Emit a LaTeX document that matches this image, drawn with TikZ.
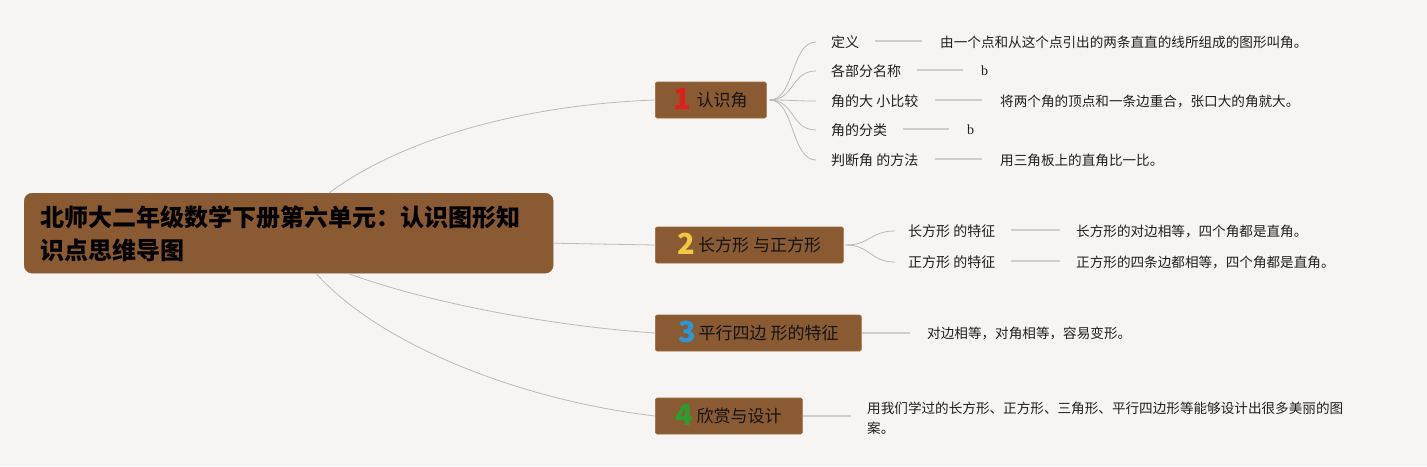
\documentclass[tikz,border=0pt]{standalone}
\usepackage{fontspec}
\setmainfont{Noto Sans CJK SC}
\newfontfamily\serifb{Liberation Serif}
\definecolor{bgc}{HTML}{F6F5F3}
\definecolor{brownc}{HTML}{8A5A32}
\definecolor{brownedge}{HTML}{9C6B40}
\definecolor{lineg}{HTML}{BDB9B5}
\definecolor{leaflinec}{HTML}{D0CDCA}
\definecolor{numred}{HTML}{E01E1E}
\definecolor{numyellow}{HTML}{F2C744}
\definecolor{numblue}{HTML}{2A98D8}
\definecolor{numgreen}{HTML}{2E9B2E}
\newcommand\bnum[2]{\smash{\raisebox{-3pt}{\color{#1}\fontsize{29}{29}\selectfont\bfseries #2}}}
\begin{document}
\begin{tikzpicture}[x=1pt,y=-1pt,
  rootbox/.style={fill=brownc, draw=brownc, rounded corners=8pt, minimum width=529pt, minimum height=80pt, inner sep=0pt, anchor=north west},
  branch/.style={fill=brownc, draw=brownedge, line width=0.6pt, rounded corners=1.5pt, minimum height=36pt, inner sep=0pt, anchor=west, font=\fontsize{17}{17}\selectfont, text=black!92},
  lbl/.style={anchor=west, inner sep=0pt, font=\fontsize{14}{14}\selectfont, text=black!88},
  leaf/.style={anchor=west, inner sep=0pt, font=\fontsize{13.6}{13.6}\selectfont, text=black!88},
  conn/.style={draw=lineg, line width=0.8pt},
  leafline/.style={draw=leaflinec, line width=2pt},
]
\fill[bgc] (0,0) rectangle (1427,466);
\useasboundingbox (0,0) rectangle (1427,466);

% root
\node[rootbox] (root) at (24,193) {};
\node[anchor=west, inner sep=0pt, align=left, font=\fontsize{24}{33}\selectfont\bfseries, text=black] (roottext) at (40,234) {北师大二年级数学下册第六单元：认识图形知\\识点思维导图};

% branches
\node[branch, minimum width=111pt] (b1) at (655,100) {\bnum{numred}{1}\hspace{5pt}认识角};
\node[branch, minimum width=188pt] (b2) at (655,245) {\bnum{numyellow}{2}\hspace{3pt}长方形 与正方形};
\node[branch, minimum width=206pt] (b3) at (655,333) {\bnum{numblue}{3}\hspace{3pt}平行四边 形的特征};
\node[branch, minimum width=147pt] (b4) at (655,416) {\bnum{numgreen}{4}\hspace{3pt}欣赏与设计};

% root connectors
\draw[conn] ([xshift=305pt]root.north west) .. controls (400,140) and (520,105) .. (b1.west);
\draw[conn] ([yshift=-10pt]root.east) -- (b2.west);
\draw[conn] ([xshift=324pt]root.south west) .. controls (420,300) and (540,325) .. (b3.west);
\draw[conn] ([xshift=292pt]root.south west) .. controls (380,345) and (520,400) .. (b4.west);

% branch 1 children
\node[lbl] (l11) at (831,42) {定义};
\node[lbl] (l12) at (831,71) {各部分名称};
\node[lbl] (l13) at (831,101) {角的大 小比较};
\node[lbl] (l14) at (831,130) {角的分类};
\node[lbl] (l15) at (831,160) {判断角 的方法};
\node[leaf] (t11) at (940,42) {由一个点和从这个点引出的两条直直的线所组成的图形叫角。};
\node[leaf, font=\serifb\fontsize{14}{14}\selectfont] (t12) at (981,71) {b};
\node[leaf] (t13) at (1000,101) {将两个角的顶点和一条边重合，张口大的角就大。};
\node[leaf, font=\serifb\fontsize{14}{14}\selectfont] (t14) at (967,130) {b};
\node[leaf] (t15) at (1000,160) {用三角板上的直角比一比。};
\foreach \i in {11,12,13,14,15}{
  \draw[conn] ([xshift=3pt]b1.east) .. controls +(25,0) and +(-25,0) .. ([xshift=-15pt]l\i.west);
  \draw[leafline] ([xshift=16pt,yshift=1.5pt]l\i.east) -- ([xshift=-18pt,yshift=1.5pt]t\i.west);
}

% branch 2 children
\node[lbl] (l21) at (908,231) {长方形 的特征};
\node[lbl] (l22) at (908,262) {正方形 的特征};
\node[leaf] (t21) at (1076,231) {长方形的对边相等，四个角都是直角。};
\node[leaf] (t22) at (1076,262) {正方形的四条边都相等，四个角都是直角。};
\foreach \i in {21,22}{
  \draw[conn] ([xshift=2pt]b2.east) .. controls +(25,0) and +(-25,0) .. ([xshift=-13pt]l\i.west);
  \draw[leafline] ([xshift=15pt,yshift=1.5pt]l\i.east) -- ([xshift=-16pt,yshift=1.5pt]t\i.west);
}

% branch 3 child
\node[leaf] (t3) at (927,333) {对边相等，对角相等，容易变形。};
\draw[leafline] (b3.east) -- ([xshift=-17pt]t3.west);

% branch 4 child
\node[leaf, align=left, font=\fontsize{13.6}{20}\selectfont] (t4) at (867,418) {用我们学过的长方形、正方形、三角形、平行四边形等能够设计出很多美丽的图\\案。};
\draw[leafline] (b4.east) -- ([xshift=-16pt,yshift=2pt]t4.west);
\end{tikzpicture}
\end{document}
